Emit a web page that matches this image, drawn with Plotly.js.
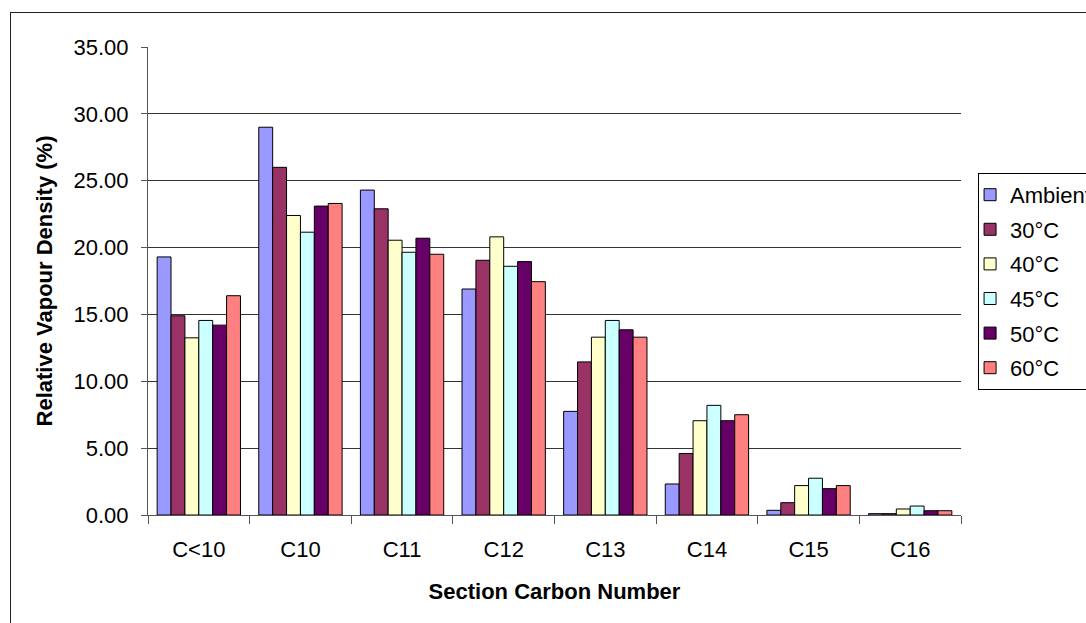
<!DOCTYPE html>
<html>
<head>
<meta charset="utf-8">
<script src="https://cdn.plot.ly/plotly-3.0.1.min.js"></script>
<style>
html,body{margin:0;padding:0;overflow:hidden;background:#fff;width:1086px;height:623px;}
#chart{position:absolute;left:0;top:0;width:1086px;height:623px;}
#frame{position:absolute;left:10px;top:12px;width:1100px;height:640px;border:1.5px solid #222;pointer-events:none;}
</style>
</head>
<body>
<div id="chart"></div>
<div id="frame"></div>
<script>
const categories = ["C<10","C10","C11","C12","C13","C14","C15","C16"];
const seriesNames = ["Ambient","30°C","40°C","45°C","50°C","60°C"];
const ambient = [19.3, 29.0, 24.3, 16.9, 7.75, 2.32, 0.35, 0.10];
const c30 =     [14.9, 26.0, 22.9, 19.05, 11.45, 4.6, 0.92, 0.10];
const c40 =     [13.25, 22.4, 20.55, 20.8, 13.3, 7.05, 2.2, 0.45];
const c45 =     [14.55, 21.15, 19.65, 18.6, 14.55, 8.2, 2.75, 0.67];
const c50 =     [14.2, 23.1, 20.7, 18.95, 13.85, 7.05, 1.97, 0.32];
const c60 =     [16.4, 23.3, 19.5, 17.45, 13.3, 7.5, 2.2, 0.32];
const seriesValues = [ambient, c30, c40, c45, c50, c60];
const colors = ["#9999FF","#993366","#FFFFCC","#CCFFFF","#660066","#FF8080"];

const font = "Liberation Sans, Arial, sans-serif";
const traces = seriesNames.map((n,i)=>({
  type:"bar", name:n, x:categories, y:seriesValues[i],
  legendgroup:"g"+i,
  marker:{color:colors[i], line:{color:"#000", width:1}}
}));

const layout = {
  width:1086, height:623,
  margin:{l:148, r:125, t:47, b:108, autoexpand:false},
  paper_bgcolor:"#fff", plot_bgcolor:"#fff",
  font:{family:font, size:22, color:"#000"},
  barmode:"group", bargap:0.18, bargroupgap:0,
  showlegend:true,
  legend:{x:1.021, y:0.731, xanchor:"left", yanchor:"top",
    bordercolor:"#000", borderwidth:1, bgcolor:"#fff", indentation:-9,
    font:{family:font, size:22, color:"#000"}, tracegroupgap:3},
  xaxis:{
    type:"category", showline:true, linecolor:"#555", linewidth:1,
    ticks:"outside", ticklen:8, tickcolor:"#555", tickson:"boundaries",
    ticklabelstandoff:15, showgrid:false,
    tickfont:{family:font, size:22, color:"#000"},
    title:{text:"<b>Section Carbon Number</b>", font:{family:font, size:22, color:"#000"}, standoff:22}
  },
  yaxis:{
    range:[0,35], dtick:5, tickformat:".2f",
    showline:true, linecolor:"#555", linewidth:1,
    ticks:"outside", ticklen:6, tickcolor:"#555",
    ticklabelstandoff:8,
    showgrid:true, gridcolor:"#333", gridwidth:1, zeroline:false,
    tickfont:{family:font, size:22, color:"#000"},
    title:{text:"<b>Relative Vapour Density (%)</b>", font:{family:font, size:22, color:"#000"}, standoff:14}
  }
};
Plotly.newPlot("chart", traces, layout, {staticPlot:true, displayModeBar:false});
</script>
</body>
</html>
